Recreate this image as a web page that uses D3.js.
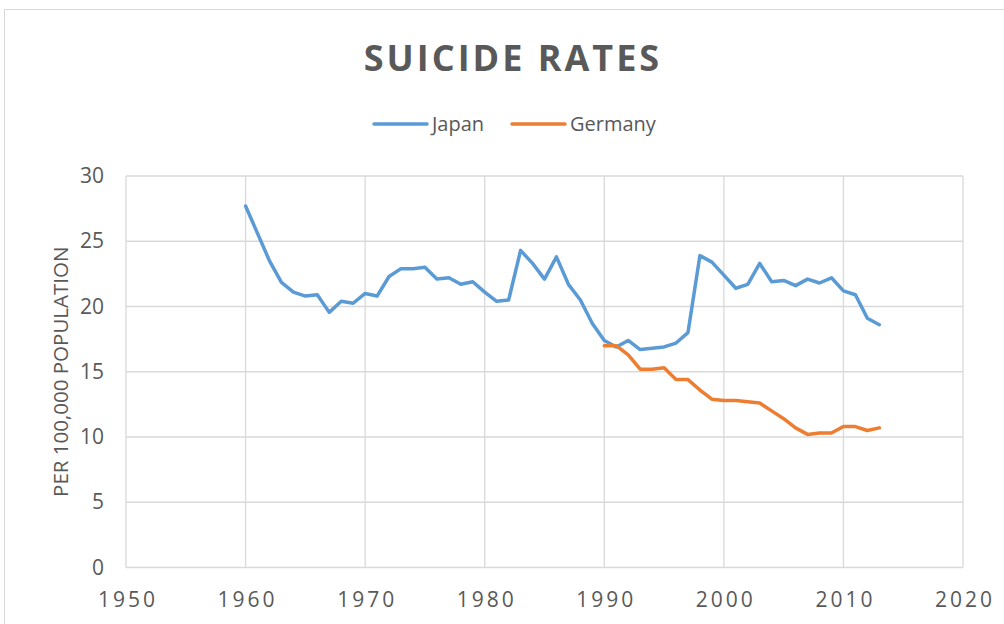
<!DOCTYPE html>
<html><head><meta charset="utf-8">
<script src="https://cdn.jsdelivr.net/npm/d3@7"></script>
<style>body{margin:0;background:#fff}svg{display:block}text{font-family:"Open Sans",Calibri,sans-serif;fill:#595959}</style>
</head><body><svg id="c" width="1004" height="624"></svg>
<script>
const japanYears = d3.range(1960, 2014);
const japanValues = [27.7,25.6,23.5,21.85,21.1,20.8,20.9,19.55,20.4,20.25,
 21.0,20.8,22.3,22.9,22.9,23.0,22.1,22.2,21.7,21.9,
 21.1,20.4,20.5,24.3,23.3,22.1,23.8,21.7,20.5,18.7,
 17.4,16.9,17.4,16.7,16.8,16.9,17.2,18.0,23.9,23.4,
 22.4,21.4,21.7,23.3,21.9,22.0,21.6,22.1,21.8,22.2,
 21.2,20.9,19.1,18.6];
const germanyYears = d3.range(1990, 2014);
const germanyValues = [17.0,17.0,16.3,15.2,15.2,15.3,14.4,14.4,13.6,12.9,
 12.8,12.8,12.7,12.6,12.0,11.4,10.7,10.2,10.3,10.3,
 10.8,10.8,10.5,10.7];
const xTicks = [1950,1960,1970,1980,1990,2000,2010,2020];
const yTicks = [0,5,10,15,20,25,30];
const seriesNames = ["Japan","Germany"];
const colors = ["#5b9bd5","#ed7d31"];

const svg = d3.select("#c");
svg.append("rect").attr("x",4.5).attr("y",9.5).attr("width",1100).attr("height",1100)
  .attr("fill","#fff").attr("stroke","#d9d9d9");

const x = d3.scaleLinear().domain([1950,2020]).range([126,963]);
const y = d3.scaleLinear().domain([0,30]).range([567.5,176]);

// gridlines
svg.append("g").selectAll("line").data(yTicks).join("line")
  .attr("x1",x(1950)).attr("x2",x(2020)).attr("y1",d=>y(d)).attr("y2",d=>y(d))
  .attr("stroke","#d9d9d9").attr("stroke-width",1.3);
svg.append("g").selectAll("line").data(xTicks).join("line")
  .attr("x1",d=>x(d)).attr("x2",d=>x(d)).attr("y1",y(0)).attr("y2",y(30))
  .attr("stroke","#d9d9d9").attr("stroke-width",1.3);

// axes labels
const yAxis = d3.axisLeft(y).tickValues(yTicks).tickSize(0).tickPadding(22);
const gy = svg.append("g").attr("transform",`translate(${x(1950)},0)`).call(yAxis);
gy.select(".domain").remove();
gy.selectAll("text").style("font-size","21px").attr("fill","#595959");

const xAxis = d3.axisBottom(x).tickValues(xTicks).tickSize(0).tickPadding(24.5).tickFormat(d3.format("d"));
const gx = svg.append("g").attr("transform",`translate(0,${y(0)})`).call(xAxis);
gx.select(".domain").remove();
gx.selectAll("text").style("font-size","21px").style("letter-spacing","3px").attr("dx","1.5px").attr("fill","#595959");

// lines
const line = d3.line().x(d=>x(d[0])).y(d=>y(d[1]));
const jp = japanYears.map((yr,i)=>[yr,japanValues[i]]);
const de = germanyYears.map((yr,i)=>[yr,germanyValues[i]]);
svg.append("path").datum(jp).attr("d",line).attr("fill","none")
  .attr("stroke",colors[0]).attr("stroke-width",3.5).attr("stroke-linejoin","round").attr("stroke-linecap","round");
svg.append("path").datum(de).attr("d",line).attr("fill","none")
  .attr("stroke",colors[1]).attr("stroke-width",3.5).attr("stroke-linejoin","round").attr("stroke-linecap","round");

// title
svg.append("text").attr("x",513).attr("y",71).attr("text-anchor","middle")
  .style("font-size","36px").style("font-weight","bold").style("letter-spacing","3px")
  .text("SUICIDE RATES");

// legend
const legX = [374,512];
seriesNames.forEach((n,i)=>{
  svg.append("line").attr("x1",legX[i]).attr("x2",legX[i]+53).attr("y1",124).attr("y2",124)
    .attr("stroke",colors[i]).attr("stroke-width",3.5).attr("stroke-linecap","round");
  svg.append("text").attr("x",legX[i]+58).attr("y",131).style("font-size","20px").text(n);
});

// y axis title
svg.append("text").attr("transform",`translate(68,${(y(0)+y(30))/2}) rotate(-90)`)
  .attr("text-anchor","middle").style("font-size","20.5px").text("PER 100,000 POPULATION");
</script></body></html>
